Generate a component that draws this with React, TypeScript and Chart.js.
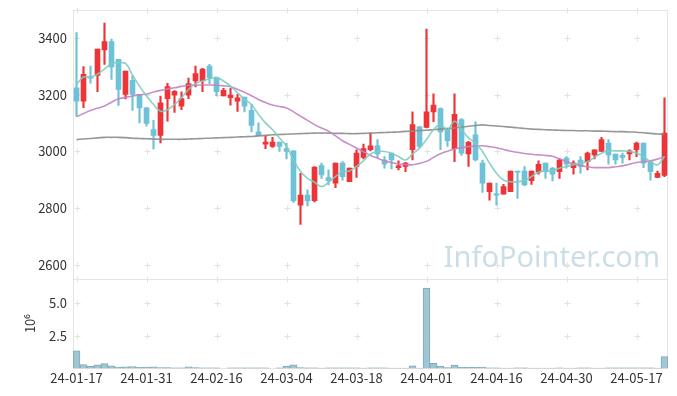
import { useEffect, useRef } from 'react';
import { Chart, registerables } from 'chart.js';
Chart.register(...registerables);

const dates = ['24-01-17','24-01-18','24-01-19','24-01-22','24-01-23','24-01-24','24-01-25','24-01-26','24-01-29','24-01-30',
'24-01-31','24-02-01','24-02-02','24-02-05','24-02-06','24-02-07','24-02-08','24-02-13','24-02-14','24-02-15',
'24-02-16','24-02-19','24-02-20','24-02-21','24-02-22','24-02-23','24-02-26','24-02-27','24-02-28','24-02-29',
'24-03-04','24-03-05','24-03-06','24-03-07','24-03-08','24-03-11','24-03-12','24-03-13','24-03-14','24-03-15',
'24-03-18','24-03-19','24-03-20','24-03-21','24-03-22','24-03-25','24-03-26','24-03-27','24-03-28','24-03-29',
'24-04-01','24-04-02','24-04-03','24-04-04','24-04-05','24-04-08','24-04-09','24-04-11','24-04-12','24-04-15',
'24-04-16','24-04-17','24-04-18','24-04-19','24-04-22','24-04-23','24-04-24','24-04-25','24-04-26','24-04-29',
'24-04-30','24-05-02','24-05-03','24-05-07','24-05-08','24-05-09','24-05-10','24-05-13','24-05-14','24-05-16',
'24-05-17','24-05-20','24-05-21','24-05-22','24-05-23'];

const openP = [3225,3178,3264,3269,3359,3388,3326,3202,3251,3202,3154,3077,3057,3187,3199,3160,3199,3249,3249,3302,
3261,3196,3190,3178,3192,3145,3069,3026,3018,3033,3010,3002,2810,2846,2826,2950,2908,2888,2959,2893,
2947,2979,3006,3020,2970,2994,2943,2947,3006,3087,3085,3140,3152,3081,3010,3113,2991,3059,2959,2858,
2850,2849,2858,2931,2931,2897,2927,2959,2941,2929,2977,2943,2970,2964,2988,3000,3030,2991,2986,2991,
3006,3030,2964,2908,2915];
const highP = [3420,3300,3302,3362,3454,3397,3326,3284,3267,3202,3156,3110,3196,3241,3215,3211,3259,3302,3294,3308,
3263,3223,3223,3202,3192,3166,3101,3057,3050,3033,3030,3002,2923,2864,2947,2959,2935,2959,2964,2941,
3006,3026,3065,3042,2982,2994,2967,2962,3140,3089,3433,3204,3154,3083,3204,3116,3036,3105,2970,2888,
2888,2884,2931,2931,2947,2931,2967,2959,2943,2974,2982,2967,2982,2998,3006,3050,3042,2991,2994,3006,
3033,3030,2964,2931,3190];
const lowP = [3125,3155,3241,3211,3308,3255,3163,3186,3145,3101,3089,3009,3030,3107,3138,3148,3187,3228,3211,3240,
3196,3196,3164,3142,3140,3069,3057,3010,3014,3000,2974,2820,2742,2808,2822,2905,2882,2872,2899,2893,
2908,2974,3002,2978,2941,2938,2935,2929,2970,3014,3083,3105,3006,3018,2964,2986,2947,2967,2855,2828,
2810,2849,2858,2834,2879,2884,2920,2905,2896,2905,2941,2920,2923,2935,2974,3000,2955,2955,2959,2970,
2982,2943,2899,2908,2911];
const closeP = [3178,3273,3259,3362,3388,3299,3219,3284,3202,3154,3099,3057,3172,3229,3213,3187,3240,3275,3291,3261,
3211,3216,3199,3190,3160,3092,3057,3033,3033,3018,3000,2826,2846,2825,2945,2917,2897,2959,2911,2941,
2994,3010,3020,2991,2955,2970,2949,2959,3095,3018,3140,3164,3069,3038,3131,2994,3032,2970,2888,2888,
2846,2876,2931,2927,2882,2931,2955,2929,2920,2970,2955,2959,2947,2994,3006,3042,2988,2970,2979,3002,
3030,2959,2929,2923,3065];

const ma5 = [3237,3263,3263,3273,3291,3311,3313,3311,3270,3231,3196,3166,3142,3148,3166,3190,3219,3240,3249,3257,
3261,3249,3231,3208,3184,3166,3131,3101,3077,3048,3018,2970,2929,2905,2891,2876,2891,2911,2929,2931,
2947,2967,2991,3000,3000,2994,2982,2970,2991,3012,3042,3077,3095,3077,3107,3077,3048,3030,3000,2959,
2923,2899,2893,2893,2897,2911,2927,2931,2931,2941,2947,2953,2959,2964,2979,2994,3002,3002,3002,3000,
2994,2982,2964,2953,2982];
const ma20 = [3123,3134,3145,3153,3161,3174,3186,3191,3196,3200,3203,3210,3216,3221,3225,3230,3234,3235,3235,3235,
3234,3232,3229,3220,3209,3197,3184,3173,3164,3159,3154,3140,3125,3110,3095,3083,3072,3055,3038,3025,
3012,2999,2986,2976,2967,2961,2956,2954,2953,2958,2965,2979,2992,3001,3009,3013,3017,3019,3020,3017,
3013,3007,3001,2997,2993,2990,2988,2986,2983,2974,2964,2957,2950,2946,2943,2943,2943,2946,2949,2955,
2961,2964,2967,2973,2981];
const ma60 = [3042,3044,3046,3048,3050,3050,3050,3049,3047,3046,3045,3044,3043,3043,3043,3043,3044,3045,3046,3047,
3048,3049,3050,3051,3052,3053,3055,3057,3059,3060,3061,3062,3063,3064,3065,3065,3065,3064,3064,3063,
3063,3064,3065,3066,3067,3068,3069,3071,3072,3074,3075,3077,3079,3081,3083,3086,3089,3092,3094,3092,
3090,3088,3086,3084,3081,3079,3078,3077,3076,3075,3074,3074,3073,3073,3072,3072,3071,3070,3070,3069,
3068,3066,3064,3062,3061];

const volume = [1350000,300000,150000,280000,360000,200000,100000,120000,140000,80000,
100000,120000,60000,60000,50000,50000,120000,60000,50000,50000,
50000,0,50000,50000,50000,50000,50000,50000,0,50000,
180000,270000,60000,50000,50000,20000,50000,50000,50000,50000,
50000,20000,50000,50000,50000,20000,20000,20000,200000,20000,
6150000,380000,180000,60000,260000,100000,100000,100000,100000,50000,
50000,20000,20000,50000,50000,20000,20000,20000,20000,50000,
20000,20000,50000,50000,20000,20000,50000,50000,50000,50000,
50000,50000,50000,20000,900000];

const priceTicks = [2600, 2800, 3000, 3200, 3400];
const volumeTicks = [2500000, 5000000];
const watermark = 'InfoPointer.com';

const UP = '#ec3439';
const DOWN = '#6dc2d8';
const FONT = '"Noto Sans CJK KR", "Noto Sans", sans-serif';

const decor = {
  id: 'decor',
  beforeDatasetsDraw(chart: any) {
    const { ctx, chartArea, scales } = chart;
    const x = scales.x, y = scales.y, yv = scales.yv;
    ctx.save();
    ctx.font = '29px "Noto Sans", sans-serif';
    ctx.fillStyle = 'rgba(160,195,212,0.55)';
    ctx.textAlign = 'right';
    ctx.textBaseline = 'alphabetic';
    ctx.fillText(watermark, chartArea.right - 8, y.bottom - 12);

    ctx.strokeStyle = '#e2e2e2';
    ctx.lineWidth = 1;
    const xs: number[] = [];
    dates.forEach((_, i) => { if (i % 10 === 0) xs.push(Math.round(x.getPixelForValue(i)) + 0.5); });
    const ys: number[] = [];
    priceTicks.forEach(v => ys.push(Math.round(y.getPixelForValue(v)) + 0.5));
    volumeTicks.forEach(v => ys.push(Math.round(yv.getPixelForValue(v)) + 0.5));
    ys.push(Math.round(y.top) + 0.5, Math.round(y.bottom) + 0.5);
    ctx.beginPath();
    xs.forEach(px => ys.forEach(py => {
      ctx.moveTo(px - 3, py); ctx.lineTo(px + 3, py);
      ctx.moveTo(px, py - 3); ctx.lineTo(px, py + 3);
    }));
    ctx.stroke();

    ctx.strokeStyle = '#e4e4e4';
    const l = Math.round(chartArea.left) + 0.5, r = Math.round(chartArea.right) - 0.5;
    [y, yv].forEach(s => {
      ctx.strokeRect(l, Math.round(s.top) + 0.5, r - l, Math.round(s.bottom) - Math.round(s.top));
    });
    ctx.restore();
  },
};

export default function App() {
  const ref = useRef<HTMLCanvasElement>(null);
  useEffect(() => {
    if (!ref.current) return;
    const bodyColors = closeP.map((c, i) => (c >= openP[i] ? UP : DOWN));
    const fitY = (s: any) => { s.width = 65; s.paddingTop = 0; s.paddingBottom = 0; };
    const chart = new Chart(ref.current, {
      type: 'bar',
      data: {
        labels: dates,
        datasets: [
          { type: 'line', data: ma5, yAxisID: 'y', borderColor: 'rgba(128,204,190,0.9)', borderWidth: 1.6, pointRadius: 0, tension: 0.4, order: 0 } as any,
          { type: 'line', data: ma20, yAxisID: 'y', borderColor: 'rgba(196,130,196,0.9)', borderWidth: 1.6, pointRadius: 0, tension: 0.4, order: 0 } as any,
          { type: 'line', data: ma60, yAxisID: 'y', borderColor: 'rgba(140,140,140,0.9)', borderWidth: 1.6, pointRadius: 0, tension: 0.4, order: 0 } as any,
          { type: 'bar', data: openP.map((o, i) => [o, closeP[i]]), yAxisID: 'y', backgroundColor: bodyColors, barThickness: 5, minBarLength: 1, grouped: false, order: 1 } as any,
          { type: 'bar', data: lowP.map((lo, i) => [lo, highP[i]]), yAxisID: 'y', backgroundColor: bodyColors, barThickness: 1.5, grouped: false, order: 2 } as any,
          { type: 'bar', data: volume, yAxisID: 'yv', backgroundColor: '#a0c6d3', borderColor: '#7fa8b9', borderWidth: 1, barPercentage: 1, categoryPercentage: 1, grouped: false, order: 3 } as any,
        ],
      },
      options: {
        animation: false,
        responsive: false,
        layout: { padding: { top: 2, right: 1, left: 0, bottom: 0 } },
        plugins: { legend: { display: false }, tooltip: { enabled: false } },
        scales: {
          x: {
            type: 'category',
            offset: true,
            grid: { display: false, drawTicks: false },
            border: { display: false },
            ticks: {
              autoSkip: false, maxRotation: 0, padding: 2,
              font: { family: FONT, size: 13 }, color: '#333',
              callback: (_v: any, i: number) => (i % 10 === 0 ? dates[i] : null),
            },
          },
          yv: {
            type: 'linear', position: 'left', stack: 'panel', stackWeight: 1,
            min: 0, max: 6850000,
            grid: { display: false, drawTicks: false },
            border: { display: false },
            afterBuildTicks: (s: any) => { s.ticks = volumeTicks.map(v => ({ value: v })); },
            afterFit: fitY,
            ticks: { padding: 6, font: { family: FONT, size: 13 }, color: '#333', callback: (v: any) => (Number(v) / 1e6).toFixed(1) },
            title: { display: true, text: '10⁶', font: { family: FONT, size: 13 }, color: '#333', padding: { top: 14, bottom: 0 } },
          },
          y: {
            type: 'linear', position: 'left', stack: 'panel', stackWeight: 3,
            min: 2550, max: 3500,
            grid: { display: false, drawTicks: false },
            border: { display: false },
            afterBuildTicks: (s: any) => { s.ticks = priceTicks.map(v => ({ value: v })); },
            afterFit: fitY,
            ticks: { padding: 6, font: { family: FONT, size: 13 }, color: '#333', callback: (v: any) => String(v) },
          },
        },
      } as any,
      plugins: [decor],
    });
    return () => chart.destroy();
  }, []);
  return <canvas ref={ref} width={661} height={380} style={{ display: 'block' }} />;
}
